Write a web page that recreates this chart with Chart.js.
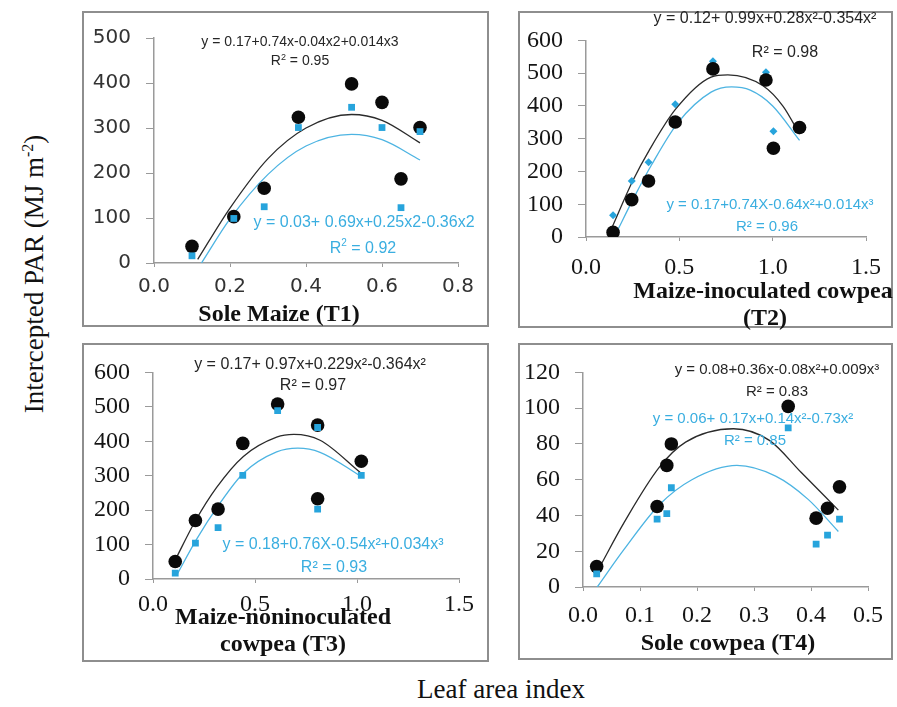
<!DOCTYPE html>
<html>
<head>
<meta charset="utf-8">
<script src="https://cdn.jsdelivr.net/npm/chart.js@4.4.0/dist/chart.umd.min.js"></script>
<style>
  body { margin: 0; background: #fff; }
  #page { position: relative; width: 897px; height: 707px; overflow: hidden; background: #fff; }
  canvas { position: absolute; }
  .frame { position: absolute; box-sizing: border-box; border: 2px solid #8e8e8e; pointer-events: none; }
  .note { position: absolute; white-space: nowrap; transform: translate(-50%, -50%); line-height: 1; }
  .eq { font-family: "Liberation Sans", Arial, sans-serif; }
  .dark { color: #262626; }
  .cyan { color: #3aaee0; }
  .ttl { font-family: "Liberation Serif", "Times New Roman", serif; font-weight: bold; font-size: 24px; color: #111; }
  .axt { font-family: "Liberation Serif", "Times New Roman", serif; font-size: 27px; color: #111; }
</style>
</head>
<body>
<div id="page"></div>
<script>
// T1 sole maize
const t1Lai = [0.10, 0.21, 0.29, 0.38, 0.52, 0.60, 0.65, 0.70];
const t1ParA = [37, 103, 166, 324, 398, 357, 187, 301];
const t1ParB = [16, 99, 125, 301, 346, 301, 123, 292];
const t1FitLaiA = [0.115, 0.2, 0.3, 0.4, 0.52, 0.6, 0.7];
const t1FitA = [8, 122, 232, 300, 330, 317, 267];
const t1FitLaiB = [0.125, 0.2, 0.3, 0.4, 0.52, 0.6, 0.7];
const t1FitB = [0, 98, 197, 260, 286, 274, 229];

// T2 maize-inoculated cowpea
const t2Lai = [0.145, 0.245, 0.335, 0.478, 0.68, 0.964, 1.004, 1.144];
const t2ParA = [14, 114, 171, 351, 513, 479, 271, 334];
const t2ParB = [66, 171, 228, 405, 536, 503, 323, 335];
const t2FitLaiA = [0.14, 0.25, 0.34, 0.48, 0.67, 0.76, 0.95, 1.056, 1.144];
const t2FitA = [30, 171, 266, 390, 488, 495, 461, 399, 314];
const t2FitLaiB = [0.16, 0.26, 0.35, 0.49, 0.67, 0.78, 0.88, 1.0, 1.144];
const t2FitB = [10, 124, 219, 347, 442, 458, 448, 400, 295];

// T3 maize-noninoculated cowpea
const t3Lai = [0.109, 0.208, 0.319, 0.440, 0.611, 0.807, 0.807, 1.021];
const t3ParA = [51, 170, 203, 394, 508, 447, 233, 342];
const t3ParB = [17, 104, 149, 301, 489, 440, 203, 301];
const t3FitLaiA = [0.108, 0.206, 0.312, 0.443, 0.606, 0.69, 0.819, 1.015];
const t3FitA = [54, 167, 266, 356, 412, 420, 403, 310];
const t3FitLaiB = [0.116, 0.214, 0.32, 0.443, 0.606, 0.71, 0.819, 1.015];
const t3FitB = [11, 116, 213, 307, 369, 380, 368, 300];

// T4 sole cowpea
const t4Lai = [0.024, 0.130, 0.147, 0.155, 0.360, 0.409, 0.429, 0.450];
const t4ParA = [11.4, 45, 68, 80, 101, 38.5, 44, 56];
const t4ParB = [7.3, 38, 41, 55.5, 89, 24, 29, 38];
const t4FitLaiA = [0.029, 0.072, 0.134, 0.18, 0.264, 0.327, 0.383, 0.448];
const t4FitA = [11, 36, 67, 81, 88.5, 82, 64, 43];
const t4FitLaiB = [0.025, 0.072, 0.134, 0.191, 0.27, 0.338, 0.395, 0.448];
const t4FitB = [0, 21, 46, 60, 68, 62, 49, 31];

const BLACK = '#0a0a0a';
const CYAN = '#27a4dc';
const page = document.getElementById('page');

function pts(xs, ys) {
  return xs.map((x, i) => ({x: x, y: ys[i]}));
}

function note(html, x, y, cls, size) {
  const d = document.createElement('div');
  d.className = 'note ' + cls;
  d.style.left = x + 'px';
  d.style.top = y + 'px';
  if (size) d.style.fontSize = size + 'px';
  d.innerHTML = html;
  page.appendChild(d);
}

function panel(p) {
  const [bx, by, bw, bh] = p.box;
  const [pl, pt, pr, pb] = p.plot;
  const cv = document.createElement('canvas');
  cv.width = bw; cv.height = bh;
  cv.style.left = bx + 'px'; cv.style.top = by + 'px';
  page.appendChild(cv);
  const fr = document.createElement('div');
  fr.className = 'frame';
  fr.style.left = bx + 'px'; fr.style.top = by + 'px';
  fr.style.width = bw + 'px'; fr.style.height = bh + 'px';
  page.appendChild(fr);

  const dotA = {data: pts(p.lai, p.parA), backgroundColor: BLACK, borderColor: BLACK,
    pointStyle: 'circle', pointRadius: 6.8, borderWidth: 0, order: p.blackTop ? 1 : 2};
  const dotB = {data: pts(p.lai, p.parB), backgroundColor: CYAN, borderColor: CYAN,
    pointStyle: p.markB, pointRadius: p.markB === 'rectRot' ? 4 : 4.8, borderWidth: 0, order: p.blackTop ? 2 : 1};
  const fitA = {data: pts(p.fitLaiA, p.fitA), showLine: true, pointRadius: 0, borderColor: '#2b2b2b',
    borderWidth: 1.3, cubicInterpolationMode: 'monotone', order: 3};
  const fitB = {data: pts(p.fitLaiB, p.fitB), showLine: true, pointRadius: 0, borderColor: '#4db4e2',
    borderWidth: 1.3, cubicInterpolationMode: 'monotone', order: 4};

  const axisColor = '#9a9a9a';
  new Chart(cv, {
    type: 'scatter',
    data: {datasets: [dotA, dotB, fitA, fitB]},
    options: {
      responsive: false,
      animation: false,
      devicePixelRatio: 1,
      layout: {padding: {top: pt - by, right: bx + bw - pr, left: 0, bottom: 0}},
      plugins: {legend: {display: false}, tooltip: {enabled: false}},
      scales: {
        x: {
          type: 'linear', min: 0, max: p.xMax,
          ticks: {stepSize: p.xStep, autoSkip: false, maxRotation: 0, padding: p.xPad,
            font: p.tickFont, color: p.tickColor, callback: v => v.toFixed(1)},
          grid: {drawOnChartArea: false, tickLength: 4, color: axisColor},
          border: {color: axisColor, width: 1.5},
          afterFit: s => { s.height = by + bh - pb; }
        },
        y: {
          type: 'linear', min: 0, max: p.yMax,
          ticks: {stepSize: p.yStep, autoSkip: false, padding: 15, font: p.tickFont, color: p.tickColor},
          grid: {drawOnChartArea: false, tickLength: 8, color: axisColor},
          border: {color: axisColor, width: 1.5},
          afterFit: s => { s.width = pl - bx; }
        }
      }
    }
  });
}

const sansTicks = {family: "'DejaVu Sans', sans-serif", size: 20};
const serifTicks = {family: "'Liberation Serif', serif", size: 24};

panel({box: [82, 11, 407, 316], plot: [154, 36, 458, 263], xMax: 0.8, xStep: 0.2, yMax: 500, yStep: 100,
  tickFont: sansTicks, tickColor: '#333', xPad: 8, markB: 'rect', blackTop: false,
  lai: t1Lai, parA: t1ParA, parB: t1ParB, fitLaiA: t1FitLaiA, fitA: t1FitA, fitLaiB: t1FitLaiB, fitB: t1FitB});
panel({box: [518, 11, 375, 317], plot: [586, 26, 871, 237], xMax: 1.5, xStep: 0.5, yMax: 600, yStep: 100,
  tickFont: serifTicks, tickColor: '#151515', xPad: 12, markB: 'rectRot', blackTop: true,
  lai: t2Lai, parA: t2ParA, parB: t2ParB, fitLaiA: t2FitLaiA, fitA: t2FitA, fitLaiB: t2FitLaiB, fitB: t2FitB});
panel({box: [82, 343, 407, 319], plot: [153, 369, 459, 579], xMax: 1.5, xStep: 0.5, yMax: 600, yStep: 100,
  tickFont: serifTicks, tickColor: '#151515', xPad: 7, markB: 'rect', blackTop: false,
  lai: t3Lai, parA: t3ParA, parB: t3ParB, fitLaiA: t3FitLaiA, fitA: t3FitA, fitLaiB: t3FitLaiB, fitB: t3FitB});
panel({box: [518, 343, 375, 317], plot: [583, 368, 877, 587], xMax: 0.5, xStep: 0.1, yMax: 120, yStep: 20,
  tickFont: serifTicks, tickColor: '#151515', xPad: 10, markB: 'rect', blackTop: false,
  lai: t4Lai, parA: t4ParA, parB: t4ParB, fitLaiA: t4FitLaiA, fitA: t4FitA, fitLaiB: t4FitLaiB, fitB: t4FitB});

// equations, panel titles
note('y = 0.17+0.74x-0.04x2+0.014x3', 300, 41, 'eq dark', 14);
note('R<sup style="font-size:9px">2</sup> = 0.95', 300, 60, 'eq dark', 14);
note('y = 0.03+ 0.69x+0.25x2-0.36x2', 364, 222, 'eq cyan', 16);
note('R<sup style="font-size:10px">2</sup> = 0.92', 363, 247, 'eq cyan', 16);
note('Sole Maize (T1)', 279, 313, 'ttl');

note('y = 0.12+ 0.99x+0.28x²-0.354x²', 765, 18, 'eq dark', 16);
note('R² = 0.98', 785, 52, 'eq dark', 16);
note('y = 0.17+0.74X-0.64x²+0.014x³', 770, 203, 'eq cyan', 15);
note('R² = 0.96', 767, 225, 'eq cyan', 15);
note('Maize-inoculated cowpea', 763, 290, 'ttl');
note('(T2)', 765, 317, 'ttl');

note('y = 0.17+ 0.97x+0.229x²-0.364x²', 310, 364, 'eq dark', 16);
note('R² = 0.97', 313, 385, 'eq dark', 16);
note('y = 0.18+0.76X-0.54x²+0.034x³', 333, 544, 'eq cyan', 16);
note('R² = 0.93', 334, 567, 'eq cyan', 16);
note('Maize-noninoculated', 283, 616, 'ttl');
note('cowpea (T3)', 283, 643, 'ttl');

note('y = 0.08+0.36x-0.08x²+0.009x³', 777, 368, 'eq dark', 15);
note('R² = 0.83', 777, 390, 'eq dark', 15);
note('y = 0.06+ 0.17x+0.14x²-0.73x²', 753, 417, 'eq cyan', 15);
note('R² = 0.85', 755, 439, 'eq cyan', 15);
note('Sole cowpea (T4)', 728, 642, 'ttl');

// shared axis titles
note('Leaf area index', 501, 689, 'axt');
const yt = document.createElement('div');
yt.className = 'note axt';
yt.style.left = '34px';
yt.style.top = '274px';
yt.style.transform = 'translate(-50%, -50%) rotate(-90deg)';
yt.innerHTML = 'Intercepted PAR (MJ m<sup style="font-size:16px">-2</sup>)';
page.appendChild(yt);
</script>
</body>
</html>
